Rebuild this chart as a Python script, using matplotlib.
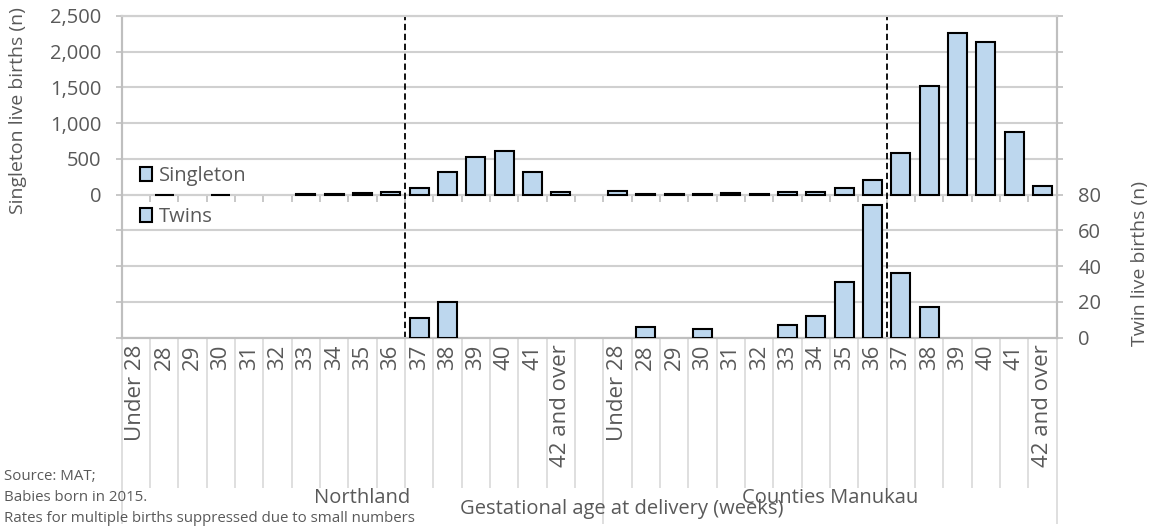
import numpy as np
import matplotlib
matplotlib.use("Agg")
import matplotlib.pyplot as plt
from matplotlib.patches import Patch
import matplotlib.transforms as mtransforms
from matplotlib.ticker import FuncFormatter

# ---------------- data ----------------
weeks = ["Under 28", "28", "29", "30", "31", "32", "33", "34", "35", "36",
         "37", "38", "39", "40", "41", "42 and over"]
regions = ["Northland", "Counties Manukau"]
nan = np.nan
singleton_northland = [nan, 3, nan, 3, nan, nan, 10, 12, 20, 38, 99, 316, 533, 618, 321, 33]
singleton_counties = [52, 8, 5, 12, 20, 15, 33, 38, 88, 203, 585, 1522, 2260, 2138, 878, 121]
twins_northland = [nan, nan, nan, nan, nan, nan, nan, nan, nan, nan, 11, 20, nan, nan, nan, nan]
twins_counties = [nan, 6, nan, 5, nan, nan, 7, 12, 31, 74, 36, 17, nan, nan, nan, nan]
left_ticks = [-2000, -1500, -1000, -500, 0, 500, 1000, 1500, 2000, 2500]
right_ticks = [0, 20, 40, 60, 80, 100, 120, 140, 160, 180]
source_lines = ["Source: MAT;", "Babies born in 2015.",
                "Rates for multiple births suppressed due to small numbers"]

# ---------------- style ----------------
FONT = ["Open Sans", "DejaVu Sans"]
plt.rcParams["font.family"] = FONT
TXT = "#595959"
BAR = "#BDD7EE"
GRID = "#D0D0D0"
AXC = "#BFBFBF"
SEP = "#D9D9D9"
FS = 14.5
FSX = 16
FSL = 14

W, H = 1157, 529
fig = plt.figure(figsize=(W / 100, H / 100), dpi=100)
L, R, T, B = 121.7, 1056.7, 16.0, 337.7
ax = fig.add_axes([L / W, 1 - B / H, (R - L) / W, (B - T) / H])
ax2 = ax.twinx()

n = len(weeks)
x_n = np.arange(n)
x_c = np.arange(n) + n + 1
ncat = 2 * n + 1
ax.set_xlim(-0.5, ncat - 0.5)
ax.set_ylim(left_ticks[0], left_ticks[-1])
ax2.set_ylim(right_ticks[0], right_ticks[-1])


def bars(a, xs, vals):
    xs = np.asarray(xs)
    vals = np.asarray(vals, dtype=float)
    m = ~np.isnan(vals)
    a.bar(xs[m], vals[m], width=0.67, color=BAR, edgecolor="black",
          linewidth=1.5, zorder=3)


bars(ax, x_n, singleton_northland)
bars(ax, x_c, singleton_counties)
bars(ax2, x_n, twins_northland)
bars(ax2, x_c, twins_counties)

# y axes
ax.set_yticks(left_ticks)
ax.yaxis.set_major_formatter(FuncFormatter(lambda v, p: f"{int(v):,}" if v >= 0 else ""))
ax.yaxis.grid(True, color=GRID, linewidth=1.5, zorder=0)
ax.set_axisbelow(True)
ax.tick_params(axis="y", length=4.5, width=1.2, color=AXC, labelsize=FS,
               labelcolor=TXT, pad=10)
ax2.set_yticks(right_ticks)
ax2.yaxis.set_major_formatter(FuncFormatter(lambda v, p: f"{int(v)}" if v <= 80 else ""))
ax2.tick_params(axis="y", length=4.5, width=1.2, color=AXC, labelsize=FS,
                labelcolor=TXT, pad=11)
for a in (ax, ax2):
    for s in a.spines.values():
        s.set_color(AXC)
        s.set_linewidth(1.5)
    a.spines["top"].set_color(GRID)

fig.text(18 / W, 1 - 111 / H, "Singleton live births (n)", rotation=90,
         ha="center", va="center", fontsize=FSL, color=TXT)
fig.text(1140 / W, 1 - 264 / H, "Twin live births (n)", rotation=90,
         ha="center", va="center", fontsize=FSL, color=TXT)

# category axis: boundaries
bounds = np.arange(-0.5, ncat, 1.0)
group_bounds = [-0.5, n + 0.5, ncat - 0.5]
inner = [b for b in bounds if b not in group_bounds]
ax.set_xticks(group_bounds)
ax.set_xticks(inner, minor=True)
ax.tick_params(axis="x", which="major", length=186 * 0.72, width=1.2, color=SEP,
               labelbottom=False)
ax.tick_params(axis="x", which="minor", length=150 * 0.72, width=1.2, color=SEP,
               labelbottom=False)

# axis at singleton zero
zero_pos = (0 - left_ticks[0]) / (left_ticks[-1] - left_ticks[0])
sec0 = ax.secondary_xaxis(zero_pos)
sec0.set_xticks(bounds)
sec0.tick_params(axis="x", length=5, width=1.2, color=AXC, labelbottom=False,
                 labeltop=False)
for s in sec0.spines.values():
    s.set_color(AXC)
    s.set_linewidth(1.5)

# category labels
secl = ax.secondary_xaxis("bottom")
centers = list(x_n) + list(x_c)
secl.set_xticks(centers, labels=weeks + weeks)
secl.tick_params(axis="x", length=0, pad=5, labelsize=FSX, labelcolor=TXT,
                 labelrotation=90)
for s in secl.spines.values():
    s.set_visible(False)

# dashed separators (between 36 and 37 weeks)
for xs in (x_n, x_c):
    ax.axvline(xs[weeks.index("36")] + 0.5, color="black", linewidth=1.3,
               linestyle=(0, (3.5, 2)), zorder=4)

# group labels
blend = mtransforms.blended_transform_factory(ax.transData, fig.transFigure)
ax.text((x_n[0] + x_n[-1] + 1) / 2, 1 - 498 / H, regions[0], transform=blend,
        ha="center", va="center", fontsize=FS, color=TXT)
ax.text((x_c[0] + x_c[-1]) / 2, 1 - 498 / H, regions[1], transform=blend,
        ha="center", va="center", fontsize=FS, color=TXT)
fig.text(622 / W, 1 - 509 / H, "Gestational age at delivery (weeks)",
         ha="center", va="center", fontsize=FS, color=TXT)

# footnote
for i, line in enumerate(source_lines):
    fig.text(4 / W, 1 - (476 + 21.5 * i) / H, line, ha="left", va="center",
             fontsize=10.8, color=TXT)

# legend
handles = [Patch(facecolor=BAR, edgecolor="black", linewidth=1.5),
           Patch(facecolor=BAR, edgecolor="black", linewidth=1.5)]
leg = ax2.legend(handles, ["Singleton", "Twins"], loc="upper left",
                 bbox_to_anchor=(140 / W, 1 - 166 / H), bbox_transform=fig.transFigure,
                 frameon=False, borderpad=0, borderaxespad=0, handlelength=0.62,
                 handleheight=0.66, handletextpad=0.3, labelspacing=1.05,
                 fontsize=FS, labelcolor=TXT)
leg.set_zorder(5)

fig.savefig("out.png", dpi=100)
